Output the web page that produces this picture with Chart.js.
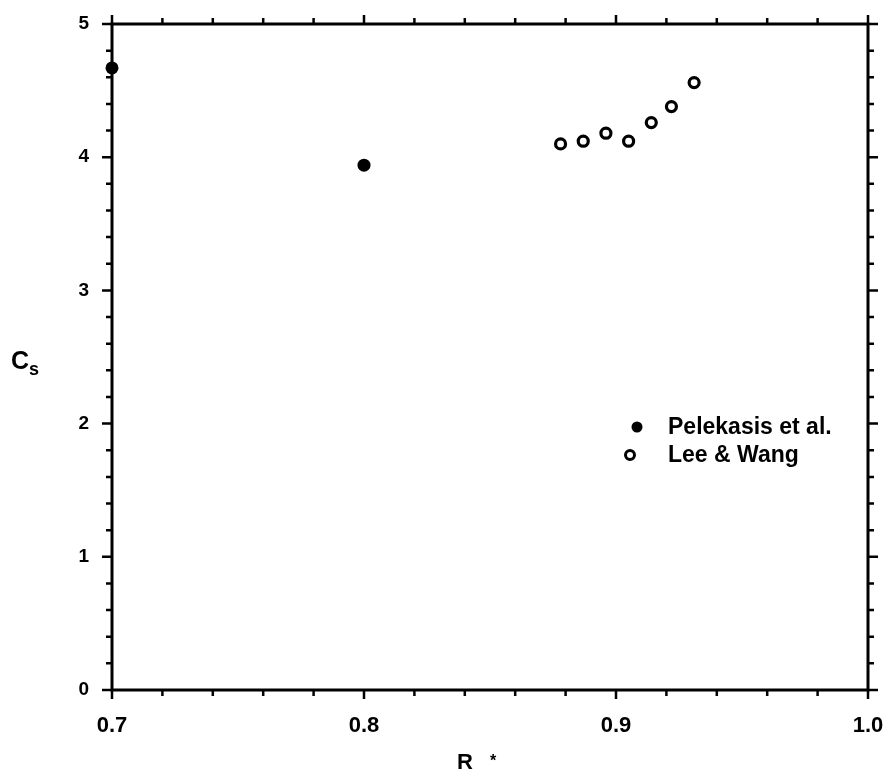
<!DOCTYPE html>
<html>
<head>
<meta charset="utf-8">
<script src="https://cdn.jsdelivr.net/npm/chart.js@4"></script>
<style>
  html, body { margin: 0; background: #fff; }
  #wrap { width: 891px; height: 782px; }
</style>
</head>
<body>
<div id="wrap"><canvas id="chart"></canvas></div>
<script>
// values
const pelekasisR = [0.700, 0.800];
const pelekasisCs = [4.67, 3.94];
const leeWangR = [0.878, 0.887, 0.896, 0.905, 0.914, 0.922, 0.931];
const leeWangCs = [4.10, 4.12, 4.18, 4.12, 4.26, 4.38, 4.56];
const seriesNames = ['Pelekasis et al.', 'Lee & Wang'];
const xTickLabels = ['0.7', '0.8', '0.9', '1.0'];
const yTickLabels = ['0', '1', '2', '3', '4', '5'];

const font = 'Liberation Sans, Arial, sans-serif';

// frame, tick marks on all four sides, axis titles and legend
const framePlugin = {
  id: 'frame',
  afterDraw(chart) {
    const { ctx, chartArea: a, scales } = chart;
    const x = scales.x, y = scales.y;
    ctx.save();
    ctx.strokeStyle = '#000';
    ctx.lineWidth = 3;
    ctx.strokeRect(a.left, a.top, a.right - a.left, a.bottom - a.top);

    ctx.lineWidth = 2.5;
    for (let i = 0; i <= 15; i++) {
      const v = 0.7 + i * 0.02;
      const px = x.getPixelForValue(v);
      const len = i % 5 === 0 ? 9 : 6;
      ctx.beginPath();
      ctx.moveTo(px, a.bottom); ctx.lineTo(px, a.bottom + len);
      ctx.moveTo(px, a.top); ctx.lineTo(px, a.top - len);
      ctx.stroke();
    }
    for (let i = 0; i <= 25; i++) {
      const v = i * 0.2;
      const py = y.getPixelForValue(v);
      const len = i % 5 === 0 ? 10 : 6;
      ctx.beginPath();
      ctx.moveTo(a.left, py); ctx.lineTo(a.left - len, py);
      ctx.moveTo(a.right, py); ctx.lineTo(a.right + len, py);
      ctx.stroke();
    }

    // axis titles
    ctx.fillStyle = '#000';
    ctx.textBaseline = 'middle';
    ctx.textAlign = 'left';
    ctx.font = 'bold 25px ' + font;
    ctx.fillText('C', 11, 362);
    ctx.font = 'bold 18px ' + font;
    ctx.fillText('s', 29, 370);
    ctx.font = 'bold 22px ' + font;
    ctx.fillText('R', 457, 763);
    ctx.font = 'bold 16px ' + font;
    ctx.fillText('*', 490, 762);

    // legend
    ctx.font = 'bold 23px ' + font;
    ctx.beginPath();
    ctx.arc(637, 427, 5.5, 0, Math.PI * 2);
    ctx.fill();
    ctx.fillText(seriesNames[0], 668, 428);
    ctx.beginPath();
    ctx.lineWidth = 3;
    ctx.arc(630, 455, 4.5, 0, Math.PI * 2);
    ctx.stroke();
    ctx.fillText(seriesNames[1], 668, 456);
    ctx.restore();
  }
};

new Chart(document.getElementById('chart'), {
  type: 'scatter',
  data: {
    datasets: [{
      label: seriesNames[0],
      data: pelekasisR.map((r, i) => ({ x: r, y: pelekasisCs[i] })),
      backgroundColor: '#000',
      borderColor: '#000',
      pointRadius: 6.5,
      borderWidth: 0,
      clip: false
    }, {
      label: seriesNames[1],
      data: leeWangR.map((r, i) => ({ x: r, y: leeWangCs[i] })),
      backgroundColor: '#fff',
      borderColor: '#000',
      pointRadius: 5,
      borderWidth: 3.2,
      clip: false
    }]
  },
  options: {
    responsive: true,
    maintainAspectRatio: false,
    animation: false,
    layout: { padding: { left: 0, right: 23, top: 24, bottom: 0 } },
    plugins: { legend: { display: false }, tooltip: { enabled: false } },
    scales: {
      x: {
        type: 'linear',
        min: 0.7,
        max: 1.0,
        grid: { display: false, drawTicks: false },
        border: { display: false },
        afterFit: s => { s.height = 92; s.paddingLeft = 0; s.paddingRight = 0; },
        afterBuildTicks: s => { s.ticks = xTickLabels.map(t => ({ value: parseFloat(t) })); },
        ticks: {
          padding: 23,
          color: '#000',
          font: { family: font, size: 22, weight: 'bold' },
          callback: (v, i) => xTickLabels[i]
        }
      },
      y: {
        min: 0,
        max: 5,
        grid: { display: false, drawTicks: false },
        border: { display: false },
        afterFit: s => { s.width = 112; s.paddingTop = 0; s.paddingBottom = 0; },
        afterBuildTicks: s => { s.ticks = yTickLabels.map(t => ({ value: parseFloat(t) })); },
        ticks: {
          padding: 23,
          color: '#000',
          font: { family: font, size: 19, weight: 'bold' },
          callback: (v, i) => yTickLabels[i]
        }
      }
    }
  },
  plugins: [framePlugin]
});
</script>
</body>
</html>
